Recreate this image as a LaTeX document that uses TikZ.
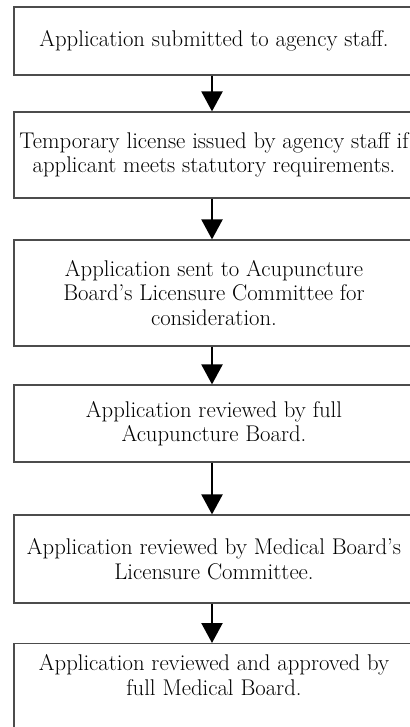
\documentclass[tikz,border=0pt]{standalone}
\usetikzlibrary{arrows.meta}

\begin{document}
\begin{tikzpicture}[x = 1bp, y = -1bp,
    box/.style = {draw = black!70, line width = 1.2bp, minimum width = 400bp, inner xsep = 2bp, align = center,
        font = \fontsize{22.8}{24.5}\selectfont},
    arr/.style = {line width = 2.3bp, -{Triangle[width = 21bp, length = 20bp]}}]
    \useasboundingbox (0, 0) rectangle (409, 727);

    \node[box, minimum height = 68bp] (s1) at (214, 41){Application submitted to agency staff.};
    \node[box, minimum height = 86bp] (s2) at (214, 155){Temporary license issued by agency staff if\\ applicant meets statutory requirements.};
    \node[box, minimum height = 106bp] (s3) at (214, 293){Application sent to Acupuncture\\ Board's Licensure Committee for\\ consideration.};
    \node[box, minimum height = 77bp] (s4) at (214, 423.5){Application reviewed by full\\ Acupuncture Board.};
    \node[box, minimum height = 88bp] (s5) at (214, 559){Application reviewed by Medical Board's\\ Licensure Committee.};
    \node[box, anchor = north, inner ysep = 11bp, text depth = 60bp] (s6) at (214, 643){Application reviewed and approved by\\ full Medical Board.};

    \draw[arr] ([xshift = -2bp]s1.south) -- ([xshift = -2bp]s2.north);
    \draw[arr] ([xshift = -2bp]s2.south) -- ([xshift = -2bp]s3.north);
    \draw[arr] ([xshift = -2bp]s3.south) -- ([xshift = -2bp]s4.north);
    \draw[arr] ([xshift = -2bp]s4.south) -- ([xshift = -2bp]s5.north);
    \draw[arr] ([xshift = -2bp]s5.south) -- ([xshift = -2bp]s6.north);
\end{tikzpicture}
\end{document}
